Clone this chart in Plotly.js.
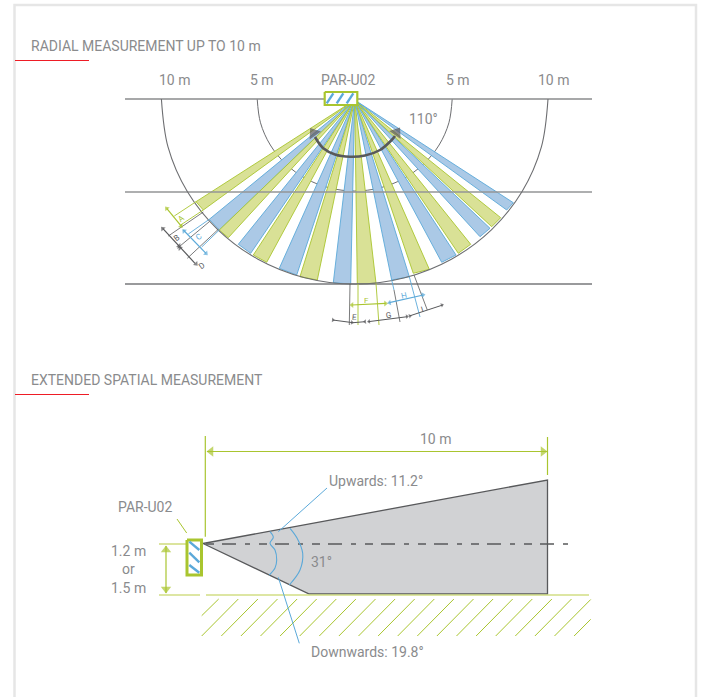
<!DOCTYPE html>
<html><head><meta charset="utf-8">
<script src="https://cdn.plot.ly/plotly-3.0.1.min.js"></script>
<style>html,body{margin:0;padding:0;background:#fff}#c{width:701px;height:697px}</style>
</head><body><div id="c"></div>
<script>
const GREEN='#a9c52f', GREEN_FILL='#d9e196', GREEN_LIGHT='#d2de85', BLUE='#5ba9d9', BLUE_FILL='#abc9e6',
      GREY='#58595b', MID='#8a8b8d', TXT='#8a8b8d', CARD='#e6e6e6', RED='#ee1c25';

// Radial beams: apex and the two arc-side tips of every beam, left to right
const apexX=354.7, apexY=100;
const beamKind=['g','b','g','b','g','b','g','b','g','b','g','b','g','b','g','b'];
const beamX1=[196,209.3,219.3,238.3,253.3,279.3,300,333.3,357.3,391.7,413.3,441.7,458.3,480,491.7,506.7];
const beamY1=[201.7,219.3,230,244.3,255,268.3,276.7,282.7,284,280,273.3,262.3,253.3,236.7,226.7,210];
const beamX2=[203.3,219.3,228.3,250.7,266.7,296.7,317.3,350.7,376,409.3,429.3,456,470.7,490,500.7,513.3];
const beamY2=[210,230,237.7,253.3,262.3,275,280,284,283.3,276.7,269.3,255,244.3,228.3,217.7,202.7];

// Range arcs
const arc10X=[161.4,168,187.3,218,258,304.7,354.7,404.7,451.4,491.4,522.1,541.4,548];
const arc10Y=[99,146.9,191.5,229.8,259.2,277.7,284,277.7,259.2,229.8,191.5,146.9,99];
const arc5X=[257.2,260.5,270.3,285.8,306,329.5,354.7,379.9,403.4,423.6,439.1,448.9,452.2];
const arc5Y=[99,122.8,145,164,178.7,187.9,191,187.9,178.7,164,145,122.8,99];
const fanArcX=[315,323.3,335,350,365,380,391.7,395];
const fanArcY=[137,148.3,154.5,156.7,155.5,150,140,136];

// Side view
const coneX=[203,547.5,547.5,309.3,203];
const coneY=[543.5,480,594,594,543.5];
const hatchBottomX=[201.7,201.7,221.3,240.9,260.5,280.1,299.7,319.3,338.9,358.5,378.1,397.7,417.3,436.9,456.5,476.1,495.7,515.3,534.9,554.5,574.1];
const hatchBottomY=[615.7,636,636,636,636,636,636,636,636,636,636,636,636,636,636,636,636,636,636,636,636];
const hatchTopX=[218.7,238.3,257.9,277.5,297.1,316.7,336.3,355.9,375.5,395.1,414.7,434.3,453.9,473.5,493.1,512.7,532.3,551.9,571.5,590.7,590.7];
const hatchTopY=[599,599,599,599,599,599,599,599,599,599,599,599,599,599,599,599,599,599,599,599.5,619.3];

// Line work: [x0,y0,x1,y1] with colour and width
const guideLines=[
 [125,99,592,99,MID,1.4],[125,192,592,192,'#939496',1.4],[125,284,592,284,'#77787b',1.4]];
const dimLines=[
 [196,201.7,174.3,216,GREEN,0.9],[203.3,210,180.7,225,GREEN,0.9],
 [209.3,219.3,188.3,234,BLUE,0.9],[219.3,230,201.7,247,BLUE,0.9],
 [203.3,212,168.3,236,GREY,0.8],[209.3,221.7,177.3,248.3,GREY,0.8],[218.3,229.3,187.3,258.3,GREY,0.8],
 [166.7,208.3,181.7,226.7,GREEN,1.2],[183.3,230,206,253.3,BLUE,1.2],
 [162.7,228.3,195,263.3,GREY,1.2],
 [350,284,349.3,325,GREY,0.8],[358,284,358,325,GREEN,0.9],[376,283.3,379,325,GREEN,0.9],
 [400,322,394,290,GREY,0.8],[394,290,391.7,280,BLUE,0.9],
 [409.3,276.7,420,317,BLUE,0.9],[414,275,427.3,310,GREY,0.8],
 [351.7,305,385.7,303.3,GREEN,1.2],[389.3,302.7,423.3,295,BLUE,1.2],
 [332.7,320,353,322.7,GREY,1],[353,322.7,365,321.7,GREY,1],
 [368.3,321.7,407.3,316.7,GREY,1],[409.3,316,442.7,305,GREY,1],
 // side view
 [205.3,436,205.3,536.7,GREEN,1.2],[547.5,437,547.5,475,GREEN,1.2],[207,451.5,547,451.5,GREEN,1.2],
 [159,544,187,544,GREEN_LIGHT,1.6],[159,595,200,595,GREEN_LIGHT,1.6],[206,595,589,595,GREEN_LIGHT,1.6],
 [166,546,166,593,GREEN,1.2],[177,519,186.7,533,GREEN,1],
 [278.3,531.7,327,488,BLUE,1],[278.3,577.3,299.3,643.3,BLUE,1]];
const angleOuterX=[290,297,302.7,300,289.3], angleOuterY=[528.3,538,553.3,570,585];
const angleInnerX=[270,273.3,270,275,276.7,275,269.3], angleInnerY=[531.7,537.3,543.3,550,560,568,575];

// Sensors
const sensorTopX=[324.7,357.3,357.3,324.7,324.7], sensorTopY=[92,92,105,105,92];
const sensorSideX=[187,201.5,201.5,187,187], sensorSideY=[540,540,575,575,540];
const stripes=[[326.7,103.3,333.3,93.3],[336.7,103.3,343.3,93.3],[346.7,103.3,353.3,93.3],
 [189.3,541.7,199.3,550],[189.3,552.7,199.3,562.3],[189.3,565,199.3,572.7]];

// Arrowheads
const headX=[313.6,396.6, 166.7,181,184,206, 162.7,179,180,196, 352,385.5,389.5,423, 333,352,365,369,407,410,442,
  211,543,166,166];
const headY=[133,132.5, 208.5,226,231,253.5, 228.5,246,248,264, 305,303.5,302.7,295, 320,322.5,321.7,321.5,316.5,316,305,
  451.5,451.5,550,589];
const headAngle=[-35,35, -40,140,-45,135, -43,137,-43,137, -90,90,-100,80, 95,95,-95,-95,82,75,70, -90,90,0,180];
const headSize=[12,12, 5,5,5,5, 5,5,5,5, 5,5,5,5, 4,4,4,4,4,4,4, 9,9,9,9];
const headColor=[GREY,GREY, GREEN,GREEN,BLUE,BLUE, GREY,GREY,GREY,GREY, GREEN,GREEN,BLUE,BLUE, GREY,GREY,GREY,GREY,GREY,GREY,GREY,
  GREEN,GREEN,GREEN,GREEN];

// Labels
const labelText=['RADIAL MEASUREMENT UP TO 10 m','EXTENDED SPATIAL MEASUREMENT','10 m','5 m','PAR-U02','5 m','10 m','110°',
 '10 m','Upwards: 11.2°','Downwards: 19.8°','31°','PAR-U02','1.2 m','or','1.5 m'];
const labelX=[29,29,175,262,347.5,458,553.5,423.5,435.5,326.5,367,321,145,128,128,128];
const labelY=[46,380,80,80,80,80,80,119,439,481,652,562,507,551,569,588];
const labelAnchor=['left','left','center','center','center','center','center','center','center','left','center','center','center','center','center','center'];
const smallText=['A','B','C','D','E','F','G','H','I'];
const smallX=[181,176,198,201,354,366.7,388.3,404.3,422];
const smallY=[218,238,237,266,317.3,300,315.7,295.3,309];
const smallAngle=[-37,-37,-37,-37,5,0,-8,-12,-18];
const smallColor=[GREEN,GREY,BLUE,GREY,GREY,GREEN,GREY,BLUE,GREY];

const redX=[[15,89],[15,89]], redY=[[60.5,60.5],[394.5,394.5]];
const cardX=[14.5,14.5,696,696], cardY=[697,5,5,697];

// ---- build ----
const traces=[];
const seg=(x,y,color,width,extra)=>traces.push(Object.assign({type:'scatter',mode:'lines',x,y,hoverinfo:'skip',
  line:Object.assign({color,width},extra||{})}));
const poly=(x,y,fill,color,width)=>traces.push({type:'scatter',mode:'lines',x,y,fill:'toself',fillcolor:fill,hoverinfo:'skip',
  line:{color,width}});

seg(cardX,cardY,CARD,2.5);
seg(redX[0],redY[0],RED,1); seg(redX[1],redY[1],RED,1);
seg(arc5X,arc5Y,'#6d6e71',1,{shape:'spline'});
guideLines.slice(0,1).forEach(l=>seg([l[0],l[2]],[l[1],l[3]],l[4],l[5]));
beamKind.forEach((k,i)=>{
  const g=k==='g';
  poly([apexX,beamX1[i],beamX2[i],apexX],[apexY,beamY1[i],beamY2[i],apexY],g?GREEN_FILL:BLUE_FILL,g?GREEN:BLUE,0.9);
});
guideLines.slice(1).forEach(l=>seg([l[0],l[2]],[l[1],l[3]],l[4],l[5]));
seg(arc10X,arc10Y,'#6d6e71',1.1,{shape:'spline'});
seg(fanArcX,fanArcY,GREY,2.6,{shape:'spline'});

poly(coneX,coneY,'#d1d2d4',GREY,1.3);
seg([206,213,226,571],[544,544,544,544],GREY,1.4,{dash:'8px,8px,14px,9px,5px,9px'});
const hx=[],hy=[];
hatchBottomX.forEach((v,i)=>{hx.push(v,hatchTopX[i],null);hy.push(hatchBottomY[i],hatchTopY[i],null);});
seg(hx,hy,GREEN,1);
dimLines.forEach(l=>seg([l[0],l[2]],[l[1],l[3]],l[4],l[5]));
seg(angleOuterX,angleOuterY,BLUE,1.1,{shape:'spline'});
seg(angleInnerX,angleInnerY,BLUE,1.1,{shape:'spline'});

poly(sensorTopX,sensorTopY,'#ffffff',GREEN,2.2);
poly(sensorSideX,sensorSideY,'#ffffff',GREEN,3);
stripes.forEach(s=>seg([s[0],s[2]],[s[1],s[3]],BLUE,2.4));
traces.push({type:'scatter',mode:'markers',x:headX,y:headY,hoverinfo:'skip',
  marker:{symbol:'triangle-up',size:headSize,angle:headAngle,color:headColor,line:{width:0}}});

const annotations=[];
labelText.forEach((t,i)=>annotations.push({x:labelX[i],y:labelY[i],text:t,showarrow:false,xanchor:labelAnchor[i],yanchor:'middle',
  font:{family:'Roboto',size:14,color:TXT,weight:400}}));
smallText.forEach((t,i)=>annotations.push({x:smallX[i],y:smallY[i],text:t,showarrow:false,textangle:smallAngle[i],xanchor:'center',yanchor:'middle',
  font:{family:'Roboto',size:8,color:smallColor[i],weight:400}}));

Plotly.newPlot('c',traces,{
  width:701,height:697,margin:{l:0,r:0,t:0,b:0},showlegend:false,
  paper_bgcolor:'#fff',plot_bgcolor:'#fff',
  xaxis:{range:[0,701],visible:false,fixedrange:true},
  yaxis:{range:[697,0],visible:false,fixedrange:true},
  annotations
},{displayModeBar:false,staticPlot:true});
</script></body></html>
